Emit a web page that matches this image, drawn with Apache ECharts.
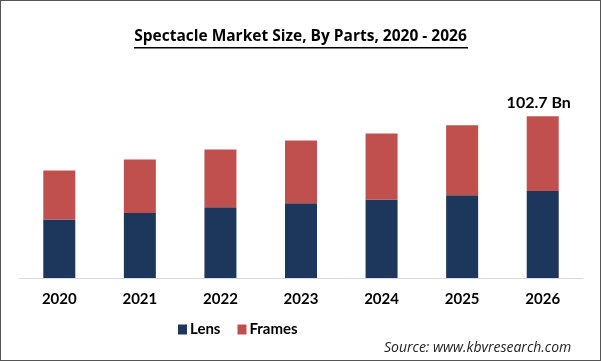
<!DOCTYPE html>
<html><head><meta charset="utf-8">
<script src="https://cdn.jsdelivr.net/npm/echarts@6/dist/echarts.min.js"></script>
<style>
html,body{margin:0;padding:0;background:#fff;}
#c{width:599px;height:359px;border:1px solid #555;}
</style></head>
<body><div id="c"></div>
<script>
var categories = ['2020','2021','2022','2023','2024','2025','2026'];
var lensValues = [37.2, 41.2, 45.0, 47.4, 49.9, 52.6, 55.2];
var framesValues = [31.1, 34.1, 36.6, 39.9, 41.8, 44.4, 47.5];
var totalLabel = '102.7 Bn';
var seriesNames = ['Lens', 'Frames'];

var chart = echarts.init(document.getElementById('c'));
var F = 'Lato, "Open Sans", sans-serif';
chart.setOption({
  animation: false,
  title: {
    text: 'Spectacle Market Size, By Parts, 2020 - 2026',
    left: 'center', top: 28, padding: 0,
    textStyle: {fontFamily: '"Open Sans", sans-serif', fontWeight: 'bold', fontSize: 15.5, color: '#000'}
  },
  graphic: [{
    type: 'rect', left: 133, top: 46, shape: {width: 334, height: 1.5},
    style: {fill: '#000'}
  }],
  legend: {
    data: seriesNames, left: 177, top: 321, padding: 0, itemWidth: 9, itemHeight: 10,
    itemGap: 17, icon: 'rect',
    textStyle: {fontFamily: F, fontWeight: 'bold', fontSize: 15, color: '#000', padding: [0,0,0,-2]}
  },
  grid: {left: 18, right: 17, top: 88, bottom: 82, containLabel: false},
  xAxis: {
    type: 'category', data: categories,
    axisLine: {lineStyle: {color: '#d9d9d9', width: 1}},
    axisTick: {show: false},
    axisLabel: {fontFamily: F, fontWeight: 'bold', fontSize: 15, color: '#000', margin: 14}
  },
  yAxis: {type: 'value', min: 0, max: 120, show: false, splitLine: {show: false}},
  series: [
    {name: seriesNames[0], type: 'bar', stack: 's', data: lensValues, barWidth: 32,
      itemStyle: {color: '#1d375c'}},
    {name: seriesNames[1], type: 'bar', stack: 's', barWidth: 32,
      data: framesValues.map(function(v, i){
        return i === framesValues.length - 1 ? {value: v, label: {show: true}} : v;
      }),
      itemStyle: {color: '#c0504d'},
      label: {show: false, position: 'top', offset: [-4, 0], distance: 5, formatter: function(){return totalLabel;},
        fontFamily: F, fontWeight: 'bold', fontSize: 16, color: '#000'}}
  ]
});
</script>
<div style="position:absolute;left:384px;top:337px;font-family:'Open Sans',sans-serif;font-style:italic;font-size:14px;color:#222;">Source: www.kbvresearch.com</div>
</body></html>
